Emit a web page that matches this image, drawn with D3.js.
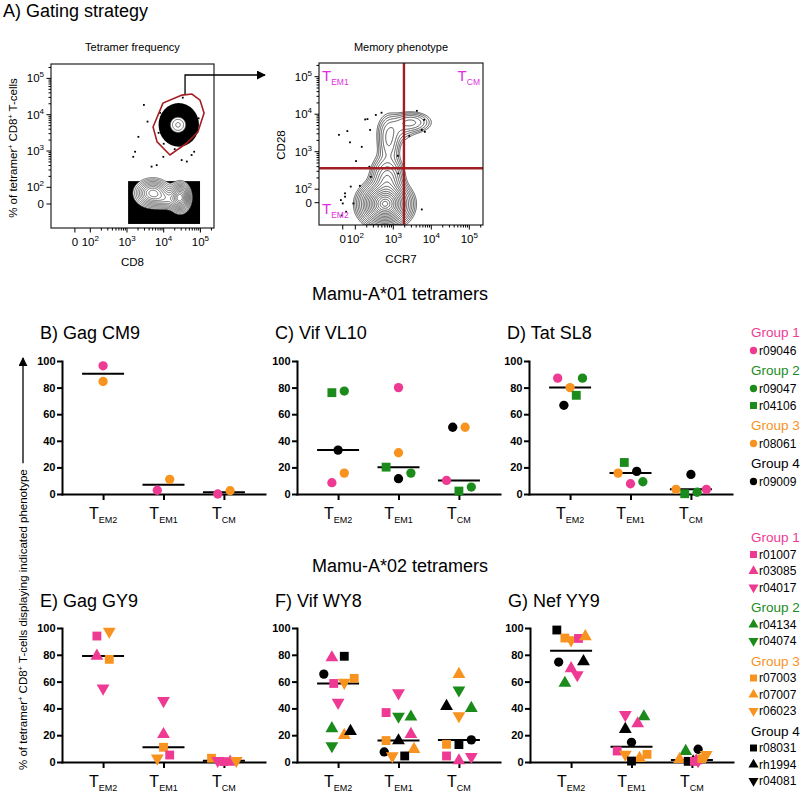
<!DOCTYPE html>
<html><head><meta charset="utf-8">
<script src="https://cdn.jsdelivr.net/npm/d3@7"></script>
<style>
body{margin:0;background:#fff}
svg{display:block}
text{font-family:"Liberation Sans",Arial,Helvetica,sans-serif}
</style>
</head><body>
<svg id="c" width="800" height="792"></svg>
<script>
// ================= DATA =================
const categories = ["EM2", "EM1", "CM"];
const yTicks = [0, 20, 40, 60, 80, 100];
const groupNames = ["Group 1", "Group 2", "Group 3", "Group 4"];
const groupColors = ["#ee3a93", "#1b8b1b", "#f7931e", "#000000"];

// animal id, group index, shape
const animalsA01 = [
  ["r09046", 0, "circle"],
  ["r09047", 1, "circle"],
  ["r04106", 1, "square"],
  ["r08061", 2, "circle"],
  ["r09009", 3, "circle"]
];
const animalsA02 = [
  ["r01007", 0, "square"], ["r03085", 0, "triangle"], ["r04017", 0, "down"],
  ["r04134", 1, "triangle"], ["r04074", 1, "down"],
  ["r07003", 2, "square"], ["r07007", 2, "triangle"], ["r06023", 2, "down"],
  ["r08031", 3, "square"], ["rh1994", 3, "triangle"], ["r04081", 3, "down"]
];

const panelTitles = ["B) Gag CM9", "C) Vif VL10", "D) Tat SL8", "E) Gag GY9", "F) Vif WY8", "G) Nef YY9"];
const rowTitles = ["Mamu-A*01 tetramers", "Mamu-A*02 tetramers"];

// [animal, phenotype, % of tetramer+ cells, beeswarm slot]
const gagCM9 = [
  ["r09046","EM2",96.4,0],["r08061","EM2",84.6,0],
  ["r09046","EM1",2.8,-1],["r08061","EM1",11,1],
  ["r09046","CM",0,-1],["r08061","CM",2.5,1]
];
const vifVL10 = [
  ["r04106","EM2",76.2,-1],["r09047","EM2",77.4,1],["r09009","EM2",33,0],["r08061","EM2",15.7,1],["r09046","EM2",8.5,-1],
  ["r09046","EM1",80,0],["r08061","EM1",31,0],["r04106","EM1",20.2,-2],["r09047","EM1",15.7,2],["r09009","EM1",11.5,0],
  ["r09009","CM",50.2,-1],["r08061","CM",50.2,1],["r09046","CM",10.2,-2],["r04106","CM",2.2,0],["r09047","CM",5.2,2]
];
const tatSL8 = [
  ["r09046","EM2",87.1,-2],["r09047","EM2",87.1,2],["r08061","EM2",80,0],["r04106","EM2",74.2,1],["r09009","EM2",66.7,-1],
  ["r04106","EM1",23.7,-1],["r08061","EM1",15.7,-2],["r09009","EM1",17,1],["r09046","EM1",7.7,0],["r09047","EM1",9.2,2],
  ["r09009","CM",14.7,0],["r08061","CM",3.5,-2.4],["r04106","CM",0.2,-1],["r09047","CM",1.3,1],["r09046","CM",3.5,2.5]
];
const gagGY9 = [
  ["r01007","EM2",94,-1],["r06023","EM2",97.5,1],["r03085","EM2",79.1,-1],["r07003","EM2",76.6,1],["r04017","EM2",55,0],
  ["r04017","EM1",45.7,0],["r03085","EM1",20.6,0],["r07003","EM1",11,0],["r01007","EM1",5.2,1],["r06023","EM1",2.8,-1],
  ["r07003","CM",2.8,-2],["r04017","CM",1,-1],["r01007","CM",0.3,0],["r03085","CM",0,1],["r06023","CM",1,2]
];
const vifWY8 = [
  ["r03085","EM2",77.9,-1],["r08031","EM2",78.9,1],["r09009","EM2",65.6,-2.3],["r07003","EM2",62.4,2.6],["r01007","EM2",58.6,-0.7],
  ["r06023","EM2",59.3,1],["r04017","EM2",44.4,0],["r04134","EM2",25,-1],["r07007","EM2",20,1],["rh1994","EM2",23,2],["r04074","EM2",12,-1],
  ["r04017","EM1",51.5,0],["r01007","EM1",36.9,-2],["r04074","EM1",34,0],["r04134","EM1",33.7,2],["r03085","EM1",20.7,2],
  ["r07003","EM1",16,-2],["rh1994","EM1",16,0],["r07007","EM1",9.5,2.5],["r09009","EM1",7.5,-2.3],["r06023","EM1",4.5,-1],["r08031","EM1",4.5,1],
  ["r07007","CM",65.5,0],["r04074","CM",53.6,0],["rh1994","CM",41.6,-2],["r04134","CM",40.1,2],["r06023","CM",34.4,0],
  ["r09009","CM",16.5,2],["r08031","CM",13,0],["r07003","CM",13.2,-2],["r01007","CM",4.5,-2],["r04017","CM",4,2],["r03085","CM",1,0]
];
const nefYY9 = [
  ["r08031","EM2",98.5,-2.3],["r07003","EM2",92.5,-1],["r06023","EM2",91,0],["r01007","EM2",92.2,1.2],["r07007","EM2",93.7,2.3],
  ["r09009","EM2",74.6,-2],["rh1994","EM2",75,2],["r03085","EM2",69.8,0],["r04017","EM2",65,1],["r04134","EM2",58.9,-1],
  ["r04017","EM1",35.2,-1],["r04134","EM1",33.9,2],["r03085","EM1",28.7,1],["rh1994","EM1",24.5,-1],["r09009","EM1",14.7,0],
  ["r01007","EM1",8.2,-2.3],["r06023","EM1",5.7,-1],["r07003","EM1",5.7,2.5],["r07007","EM1",2.8,1.3],["r08031","EM1",0.7,0],
  ["r04134","CM",8,-1],["r09009","CM",9.5,1],["r07007","CM",2,-2],["r08031","CM",0.5,-0.6],["rh1994","CM",0.3,0.2],
  ["r01007","CM",0.5,0.4],["r03085","CM",1,0.7],["r04017","CM",0.8,1],["r06023","CM",5.5,2.3],["r07003","CM",2.5,1.6]
];
const panelData = [gagCM9, vifVL10, tatSL8, gagGY9, vifWY8, nefYY9];

// ---- Flow cytometry panel A (log10 units; "0" marks the biexponential zero) ----
const flowTickLabels = [["0", null], ["10", "2"], ["10", "3"], ["10", "4"], ["10", "5"]];
const tetXTicks = [1.58, 2, 3, 4, 5];
const tetYTicks = [1.54, 2, 3, 4, 5];
const memXTicks = [1.67, 2, 3, 4, 5];
const memYTicks = [1.64, 2, 3, 4, 5];
// populations: [cx, cy, sdx, sdy, weight]
const tetClusters = [[4.39, 3.72, 0.16, 0.16, 0.15], [3.70, 1.84, 0.24, 0.19, 0.8], [4.45, 1.72, 0.14, 0.2, 1.0], [4.1, 1.66, 0.2, 0.14, 0.3]];
const tetLevels = [0.06, 0.09, 0.13, 0.18, 0.24, 0.31, 0.39, 0.48, 0.58, 0.69, 0.8, 0.9];
const tetDotMassEllipse = [[4.41, 3.72, 0.55, 0.6]];
const tetDotMassRect = [[3.03, 4.99, 0.99, 2.17]];
const tetGate = [[4.50,4.54],[3.98,4.32],[3.71,3.66],[3.82,3.25],[4.17,2.89],[4.63,3.22],[4.93,3.52],[5.10,4.05],[4.99,4.40],[4.77,4.57]];
const tetDots = [[3.46,4.27],[3.31,3.39],[3.17,2.84],[3.56,3.81],[3.67,2.57],[3.81,2.61],[3.99,2.84],[4.52,4.47],[4.76,2.89],[4.63,2.71],[3.22,2.98],[4.49,2.75],[4.83,2.98],[3.9,4.05],[4.0,3.2],[3.86,3.5],[4.95,3.9],[4.3,3.05]];
const memClusters = [[2.78, 1.6, 0.28, 0.25, 1.0], [2.84, 2.25, 0.2, 0.3, 0.22], [2.88, 3.3, 0.15, 0.33, 0.09], [3.48, 3.78, 0.26, 0.14, 0.09], [3.1, 3.6, 0.25, 0.2, 0.04]];
const memLevels = [0.012, 0.018, 0.027, 0.04, 0.058, 0.085, 0.12, 0.16, 0.21, 0.27, 0.34, 0.42, 0.51, 0.6, 0.7, 0.8, 0.9, 0.97];
const memDots = [[1.57,3.45],[1.79,3.55],[1.86,3.25],[2.02,2.75],[2.26,3.86],[2.32,3.87],[2.39,3.58],[2.17,3.13],[2.37,2.60],[2.41,2.33],[2.12,2.09],[1.88,2.07],[1.73,1.89],[1.73,1.80],[1.67,1.62],[1.62,1.71],[1.95,1.62],[1.76,1.40],[1.64,1.30],[3.75,1.46],[3.62,4.09],[3.81,3.85],[3.83,3.53],[3.75,3.58],[3.42,3.42],[2.69,4.04],[2.54,3.98],[3.12,2.89],[3.13,2.42]];
const memGate = [3.28, 2.56]; // CCR7 and CD28 cut-offs
const memQuadrants = [["EM1", 0], ["CM", 1], ["EM2", 2]];

// ================= DRAW =================
const svg = d3.select("#c");
const groupOf = new Map([...animalsA01, ...animalsA02].map(a => [a[0], a]));

function symbolPath(shape, size) {
  if (shape === "circle") return d3.symbol(d3.symbolCircle, size)();
  if (shape === "square") return d3.symbol(d3.symbolSquare, size * 1.15)();
  return d3.symbol(d3.symbolTriangle, size * 1.05)();
}

svg.append("text").attr("x", 3).attr("y", 17).attr("font-size", 18).text("A) Gating strategy");

// ---------- flow plots ----------
function flowPlot(cfg) {
  const {x0, y0, x1, y1, sx, sy} = cfg;
  const g = svg.append("g");
  const clip = g.append("clipPath").attr("id", cfg.id);
  clip.append("rect").attr("x", x0).attr("y", y0).attr("width", x1 - x0).attr("height", y1 - y0);
  const inner = g.append("g").attr("clip-path", `url(#${cfg.id})`);
  const kx = sx(4) - sx(3), ky = sy(3) - sy(4);
  (cfg.massE || []).forEach(e => inner.append("ellipse")
    .attr("cx", sx(e[0])).attr("cy", sy(e[1])).attr("rx", e[2] * kx).attr("ry", e[3] * ky).attr("fill", "#000"));
  (cfg.massR || []).forEach(r => inner.append("rect")
    .attr("x", sx(r[0])).attr("y", sy(r[3])).attr("width", sx(r[1]) - sx(r[0])).attr("height", sy(r[2]) - sy(r[3])).attr("fill", "#000"));
  // density grid
  const nx = Math.round(x1 - x0), ny = Math.round(y1 - y0);
  const vals = new Float64Array(nx * ny);
  let mx = 0;
  for (let j = 0; j < ny; j++) for (let i = 0; i < nx; i++) {
    const px = x0 + i + 0.5, py = y0 + j + 0.5;
    let v = 0;
    for (const c of cfg.clusters) {
      const dx = (px - sx(c[0])) / (c[2] * kx), dy = (py - sy(c[1])) / (c[3] * ky);
      v += c[4] * Math.exp(-0.5 * (dx * dx + dy * dy));
    }
    vals[j * nx + i] = v; if (v > mx) mx = v;
  }
  const cs = d3.contours().size([nx, ny]).thresholds(cfg.levels.map(l => l * mx))(vals);
  const path = d3.geoPath();
  const cg = inner.append("g").attr("transform", `translate(${x0},${y0})`);
  cg.append("path").attr("d", path(cs[0])).attr("fill", "#fff").attr("stroke", cfg.lineColor).attr("stroke-width", 0.75);
  cs.slice(1).forEach(c => cg.append("path").attr("d", path(c)).attr("fill", "none").attr("stroke", cfg.lineColor).attr("stroke-width", 0.75));
  inner.selectAll(null).data(cfg.dots).join("rect")
    .attr("x", d => sx(d[0]) - 0.9).attr("y", d => sy(d[1]) - 0.9).attr("width", 1.8).attr("height", 1.8).attr("fill", "#000");
  // frame
  g.append("rect").attr("x", x0).attr("y", y0).attr("width", x1 - x0).attr("height", y1 - y0)
    .attr("fill", "none").attr("stroke", "#222").attr("stroke-width", 1.2);
  // ticks
  const minor = [];
  for (let n = 2; n <= 5; n++) for (let k = 2; k <= 9; k++) minor.push(n + Math.log10(k));
  const ax = g.append("g").attr("stroke", "#000").attr("stroke-width", 1);
  minor.filter(d => sx(d) < x1).forEach(d => ax.append("line").attr("x1", sx(d)).attr("x2", sx(d)).attr("y1", y1).attr("y2", y1 + 2.5));
  minor.filter(d => sy(d) > y0).forEach(d => ax.append("line").attr("y1", sy(d)).attr("y2", sy(d)).attr("x1", x0).attr("x2", x0 - 2.5));
  cfg.xt.forEach(d => ax.append("line").attr("x1", sx(d)).attr("x2", sx(d)).attr("y1", y1).attr("y2", y1 + 4.5));
  cfg.yt.forEach(d => ax.append("line").attr("y1", sy(d)).attr("y2", sy(d)).attr("x1", x0).attr("x2", x0 - 4.5));
  function lab(sel, l) {
    sel.append("tspan").text(l[0]);
    if (l[1]) sel.append("tspan").attr("font-size", 8).attr("dy", -5).text(l[1]);
  }
  cfg.xt.forEach((d, i) => lab(g.append("text").attr("x", sx(d)).attr("y", y1 + 18).attr("font-size", 11.5)
    .attr("text-anchor", "middle"), flowTickLabels[i]));
  cfg.yt.forEach((d, i) => lab(g.append("text").attr("x", x0 - 7).attr("y", sy(d) + 4).attr("font-size", 11.5)
    .attr("text-anchor", "end"), flowTickLabels[i]));
  g.append("text").attr("x", (x0 + x1) / 2).attr("y", 51).attr("font-size", 11).attr("text-anchor", "middle").text(cfg.title);
  g.append("text").attr("x", (x0 + x1) / 2).attr("y", cfg.xlabY).attr("font-size", 11.5).attr("text-anchor", "middle").text(cfg.xlab);
  return {g, inner};
}

const tetSx = d3.scaleLinear().domain([3, 4]).range([127, 163.7]);
const tetSy = d3.scaleLinear().domain([3, 4]).range([151, 114.7]);
const tet = flowPlot({id: "clipT", x0: 51, y0: 64, x1: 214, y1: 228, sx: tetSx, sy: tetSy,
  clusters: tetClusters, levels: tetLevels, massE: tetDotMassEllipse, massR: tetDotMassRect, dots: tetDots,
  xt: tetXTicks, yt: tetYTicks, title: "Tetramer frequency", xlab: "CD8", xlabY: 266, lineColor: "#444"});
tet.g.append("path").attr("d", d3.line().curve(d3.curveLinearClosed)(tetGate.map(p => [tetSx(p[0]), tetSy(p[1])])))
  .attr("fill", "none").attr("stroke", "#a31e22").attr("stroke-width", 1.6);
{
  const yl = svg.append("text").attr("transform", "translate(17,148) rotate(-90)").attr("font-size", 11.5).attr("text-anchor", "middle");
  yl.append("tspan").text("% of tetramer");
  yl.append("tspan").attr("font-size", 7).attr("dy", -4).text("+");
  yl.append("tspan").attr("dy", 4).text(" CD8");
  yl.append("tspan").attr("font-size", 7).attr("dy", -4).text("+");
  yl.append("tspan").attr("dy", 4).text(" T-cells");
}
// arrow from gate to memory plot
svg.append("defs").append("marker").attr("id", "ah").attr("viewBox", "0 0 10 10").attr("refX", 9).attr("refY", 5)
  .attr("markerWidth", 9).attr("markerHeight", 9).attr("markerUnits", "userSpaceOnUse").attr("orient", "auto")
  .append("path").attr("d", "M0,0L10,5L0,10Z").attr("fill", "#000");
svg.append("path").attr("d", `M${tetSx(tetGate[0][0]) + 3},${tetSy(tetGate[0][1]) - 1}V75H265`)
  .attr("fill", "none").attr("stroke", "#000").attr("stroke-width", 1.3).attr("marker-end", "url(#ah)");

const memSx = d3.scaleLinear().domain([3, 4]).range([393.3, 431.3]);
const memSy = d3.scaleLinear().domain([3, 4]).range([151.7, 114.2]);
const mem = flowPlot({id: "clipM", x0: 319, y0: 63, x1: 483, y1: 225, sx: memSx, sy: memSy,
  clusters: memClusters, levels: memLevels, dots: memDots,
  xt: memXTicks, yt: memYTicks, title: "Memory phenotype", xlab: "CCR7", xlabY: 263, lineColor: "#222"});
mem.inner.append("line").attr("x1", memSx(memGate[0])).attr("x2", memSx(memGate[0])).attr("y1", 63).attr("y2", 225)
  .attr("stroke", "#a31e22").attr("stroke-width", 2.4);
mem.inner.append("line").attr("y1", memSy(memGate[1])).attr("y2", memSy(memGate[1])).attr("x1", 319).attr("x2", 483)
  .attr("stroke", "#a31e22").attr("stroke-width", 2.4);
svg.append("text").attr("transform", "translate(285,145) rotate(-90)").attr("font-size", 11.5).attr("text-anchor", "middle").text("CD28");
const quadPos = [[322, 81, "start"], [480, 81, "end"], [322, 214, "start"]];
memQuadrants.forEach(q => {
  const p = quadPos[q[1]];
  const t = svg.append("text").attr("x", p[0]).attr("y", p[1]).attr("text-anchor", p[2]).attr("fill", "#dd2fdd").attr("font-size", 15);
  t.append("tspan").text("T");
  t.append("tspan").attr("font-size", 8.5).attr("dy", 4).text(q[0]);
});

// ---------- scatter panels ----------
rowTitles.forEach((t, i) => svg.append("text").attr("x", 400).attr("y", [300, 572][i]).attr("text-anchor", "middle").attr("font-size", 18).text(t));

const layout = [
  {ax: 62, y0: 494, y1: 361}, {ax: 297, y0: 494, y1: 361}, {ax: 529, y0: 494, y1: 361},
  {ax: 62, y0: 762, y1: 628}, {ax: 297, y0: 762, y1: 628}, {ax: 530, y0: 762, y1: 628}
];
const SLOT = 6.2;
layout.forEach((p, pi) => {
  const data = panelData[pi];
  const x = d3.scalePoint().domain(categories).range([p.ax, p.ax + 203]).padding(0.68);
  const y = d3.scaleLinear().domain([0, 100]).range([p.y0, p.y1]);
  const g = svg.append("g");
  g.append("text").attr("x", p.ax - 22).attr("y", p.y0 - 155).attr("font-size", 18).text(panelTitles[pi]);
  const ya = g.append("g").attr("transform", `translate(${p.ax},0)`)
    .call(d3.axisLeft(y).tickValues(yTicks).tickSize(5).tickSizeOuter(0).tickPadding(1.5));
  const xa = g.append("g").attr("transform", `translate(0,${p.y0})`)
    .call(d3.axisBottom(x).tickSize(6).tickSizeOuter(0).tickFormat(""));
  [ya, xa].forEach(a => { a.selectAll("path,line").attr("stroke", "#000").attr("stroke-width", 2); a.select(".domain").attr("stroke-linecap", "square"); });
  ya.selectAll("text").attr("font-size", 11).attr("font-weight", "bold").attr("fill", "#000")
    .style("font-family", '"Liberation Sans",Arial,sans-serif');
  categories.forEach(c => {
    const t = g.append("text").attr("x", x(c)).attr("y", p.y0 + 25).attr("text-anchor", "middle").attr("font-size", 16);
    t.append("tspan").text("T");
    t.append("tspan").attr("font-size", 9).attr("dy", 4).text(c);
    const med = d3.median(data.filter(d => d[1] === c), d => d[2]);
    g.append("line").attr("x1", x(c) - 21).attr("x2", x(c) + 21).attr("y1", y(med)).attr("y2", y(med))
      .attr("stroke", "#000").attr("stroke-width", 2);
  });
  g.selectAll(null).data(data).join("path")
    .attr("d", d => symbolPath(groupOf.get(d[0])[2], 68))
    .attr("transform", d => `translate(${x(d[1]) + d[3] * SLOT},${y(d[2])})${groupOf.get(d[0])[2] === "down" ? " rotate(180)" : ""}`)
    .attr("fill", d => groupColors[groupOf.get(d[0])[1]]);
});

// shared y label with arrow
{
  const yl = svg.append("text").attr("transform", "translate(27,770) rotate(-90)").attr("font-size", 11.5);
  yl.append("tspan").text("% of tetramer");
  yl.append("tspan").attr("font-size", 7.5).attr("dy", -4).text("+");
  yl.append("tspan").attr("dy", 4).text(" CD8");
  yl.append("tspan").attr("font-size", 7.5).attr("dy", -4).text("+");
  yl.append("tspan").attr("dy", 4).text(" T-cells displaying indicated phenotype");
  const len = yl.node().getComputedTextLength();
  svg.append("line").attr("x1", 23).attr("x2", 23).attr("y1", 770 - len - 6).attr("y2", 358)
    .attr("stroke", "#000").attr("stroke-width", 1.3).attr("marker-end", "url(#ah)");
}

// ---------- legends ----------
function legend(animals, yStart, h2i, i2i, i2h) {
  let y = yStart, prev = null;
  animals.forEach(a => {
    if (a[1] !== prev) {
      if (prev !== null) y += i2h;
      svg.append("text").attr("x", 751).attr("y", y + 5).attr("font-size", 13.5).attr("fill", groupColors[a[1]]).text(groupNames[a[1]]);
      y += h2i; prev = a[1];
    } else y += i2i;
    svg.append("path").attr("d", symbolPath(a[2], 42))
      .attr("transform", `translate(753.5,${y})${a[2] === "down" ? " rotate(180)" : ""}`).attr("fill", groupColors[a[1]]);
    svg.append("text").attr("x", 759).attr("y", y + 4.3).attr("font-size", 12).text(a[0]);
  });
}
legend(animalsA01, 332, 18.5, 17, 19.5);
legend(animalsA02, 537, 17.5, 16.5, 19.5);
</script>
</body></html>
